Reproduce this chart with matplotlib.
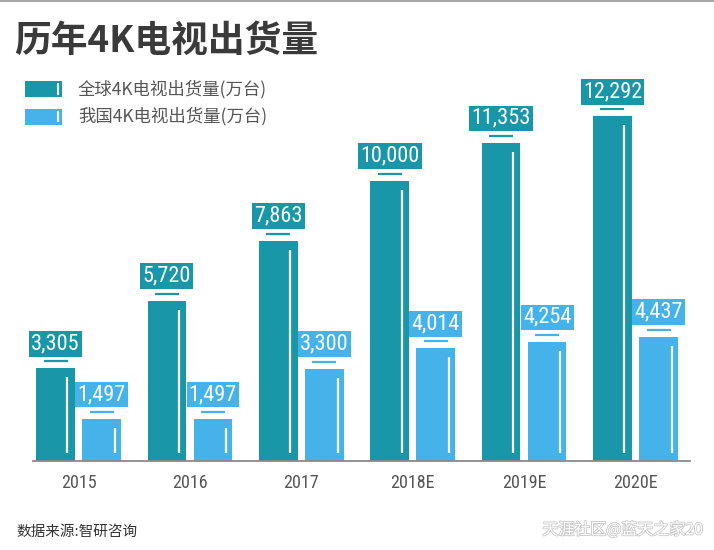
import matplotlib
matplotlib.use("Agg")
import matplotlib.pyplot as plt
from matplotlib import font_manager
from matplotlib.patches import Rectangle
import matplotlib.patheffects as pe

years = ["2015", "2016", "2017", "2018E", "2019E", "2020E"]
global_vals = [3305, 5720, 7863, 10000, 11353, 12292]
china_vals = [1497, 1497, 3300, 4014, 4254, 4437]
series_names = ["全球4K电视出货量(万台)", "我国4K电视出货量(万台)"]
title = "历年4K电视出货量"
source = "数据来源:智研咨询"
mark = "天涯社区@蓝天之家20"

DARK = "#1996a8"
LIGHT = "#45b3ea"

plt.rcParams['font.family'] = ['Noto Sans CJK SC', 'DejaVu Sans']
avail = {f.name for f in font_manager.fontManager.ttflist}
num_font = 'Noto Sans CJK SC'
for cand in ['Roboto Condensed', 'Liberation Sans Narrow', 'DejaVu Sans Condensed', 'Roboto']:
    if cand in avail:
        num_font = cand
        break

W, H = 714, 550
fig = plt.figure(figsize=(W / 100, H / 100), dpi=100)
fig.patch.set_facecolor("white")

ax_l, ax_r, ax_b, ax_t = 33, 690, 461, 60
ax = fig.add_axes([ax_l / W, (H - ax_b) / H, (ax_r - ax_l) / W, (ax_b - ax_t) / H])
pitch = 111.4
c0 = 78.5
ax.set_xlim(-(c0 - ax_l) / pitch, (ax_r - c0) / pitch)
ax.set_ylim(0, 14306)
px_x = 1 / pitch                       # data units per pixel (x)
px_y = 14306 / (ax_b - ax_t)           # data units per pixel (y)

bw = 38.5 * px_x
off = 23 * px_x
for spine in ax.spines.values():
    spine.set_visible(False)
ax.spines['bottom'].set_visible(True)
ax.spines['bottom'].set_color("#8a8a8a")
ax.spines['bottom'].set_linewidth(1.3)
ax.set_yticks([])
ax.set_xticks(range(len(years)))
ax.set_xticklabels(years, fontsize=13, color="#555555", family=[num_font, 'DejaVu Sans'])
ax.tick_params(axis='x', length=0, pad=9)

for i, (g, c) in enumerate(zip(global_vals, china_vals)):
    for x, v, col, lof in [(i - off, g, DARK, 7.3), (i + off, c, LIGHT, 6.0)]:
        ax.bar(x, v, width=bw, color=col, zorder=2)
        lx = x + bw / 2 - lof * px_x
        ax.plot([lx, lx], [8 * px_y, v - 9 * px_y], color="white", lw=1.6, zorder=3,
                solid_capstyle='butt')
        sy = v + 7 * px_y
        ax.plot([x - 12 * px_x, x + 12 * px_x], [sy, sy], color=col, lw=1.6, zorder=3,
                solid_capstyle='butt')
        ax.annotate(f"{v:,}", (x, v), xytext=(0, 14), textcoords='offset pixels',
                    ha='center', va='bottom', color='white', fontsize=16,
                    family=[num_font, 'DejaVu Sans'], zorder=4, annotation_clip=False,
                    bbox=dict(boxstyle='square,pad=0.1', fc=col, ec='none'))

# title
fig.text(14 / W, 1 - 41 / H, title, fontsize=26.5, fontweight='bold', color="#3a3a3a",
         ha='left', va='center')

# legend
for k, (name, col) in enumerate(zip(series_names, [DARK, LIGHT])):
    cy = 89 + k * 27.5
    fig.patches.append(Rectangle((25 / W, 1 - (cy + 8) / H), 37 / W, 16 / H,
                                 transform=fig.transFigure, fc=col, ec='none'))
    fig.lines.append(plt.Line2D([57.5 / W, 57.5 / W], [1 - (cy - 4.5) / H, 1 - (cy + 4.5) / H],
                                transform=fig.transFigure, color='white', lw=1.5))
    fig.text(78 / W, 1 - cy / H, name, fontsize=12.5, color="#555555", ha='left', va='center')

# top border line
fig.lines.append(plt.Line2D([0, 1], [1 - 0.8 / H, 1 - 0.8 / H], transform=fig.transFigure,
                            color="#a8a8a8", lw=1.5))

# footer
fig.text(16 / W, 1 - 531.5 / H, source, fontsize=10.5, color="#333333", ha='left', va='center')
fig.text(703 / W, 1 - 530 / H, mark, fontsize=11.5, color="white", ha='right', va='center',
         path_effects=[pe.withStroke(linewidth=1.2, foreground="#c8c8c8")])

fig.savefig("out.png", dpi=100, facecolor="white")
